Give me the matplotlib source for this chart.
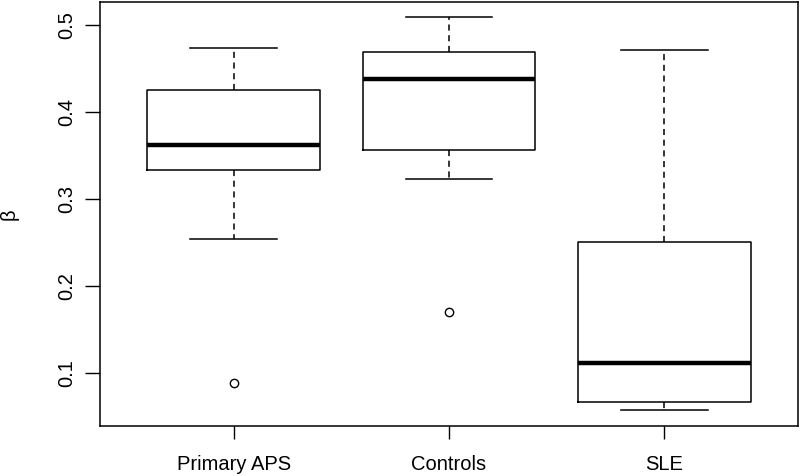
import matplotlib
matplotlib.use("Agg")
import matplotlib.pyplot as plt

groups = ["Primary APS", "Controls", "SLE"]
whislo = [0.254, 0.323, 0.058]
q1 = [0.333, 0.356, 0.067]
med = [0.362, 0.438, 0.112]
q3 = [0.425, 0.469, 0.250]
whishi = [0.474, 0.509, 0.471]
fliers = [[0.089], [0.170], []]

plt.rcParams['font.family'] = ['Liberation Sans', 'DejaVu Sans']

fig = plt.figure(figsize=(8, 4.76), dpi=100)
ax = fig.add_axes([0.125, 0.105, 0.8725, 0.891])

stats = []
for i, g in enumerate(groups):
    stats.append(dict(label=g, whislo=whislo[i], q1=q1[i], med=med[i],
                      q3=q3[i], whishi=whishi[i], fliers=fliers[i]))

ax.bxp(stats, positions=[1, 2, 3], widths=0.8, patch_artist=False,
       boxprops=dict(color='black', linewidth=1.1),
       medianprops=dict(color='black', linewidth=3.2, solid_capstyle='butt'),
       whiskerprops=dict(color='black', linewidth=1.1, linestyle=(0, (4, 3))),
       capprops=dict(color='black', linewidth=1.1),
       capwidths=0.4,
       flierprops=dict(marker='o', markerfacecolor='none', markeredgecolor='black',
                       markersize=6, markeredgewidth=1))

ax.set_xlim(0.38, 3.62)
ax.set_ylim(0.0391, 0.5264)
ax.set_yticks([0.1, 0.2, 0.3, 0.4, 0.5])
ax.set_yticklabels(["0.1", "0.2", "0.3", "0.4", "0.5"], rotation=90, va='center')
ax.set_xticks([1, 2, 3])
ax.set_xticklabels(groups)
ax.tick_params(axis='y', length=11, width=1, labelsize=14.5, pad=6)
ax.tick_params(axis='x', length=9, width=1, labelsize=14.5, pad=12)
for s in ax.spines.values():
    s.set_linewidth(1.1)
ax.set_ylabel("β", fontsize=14.5, labelpad=28)

fig.savefig("out.png", dpi=100)
